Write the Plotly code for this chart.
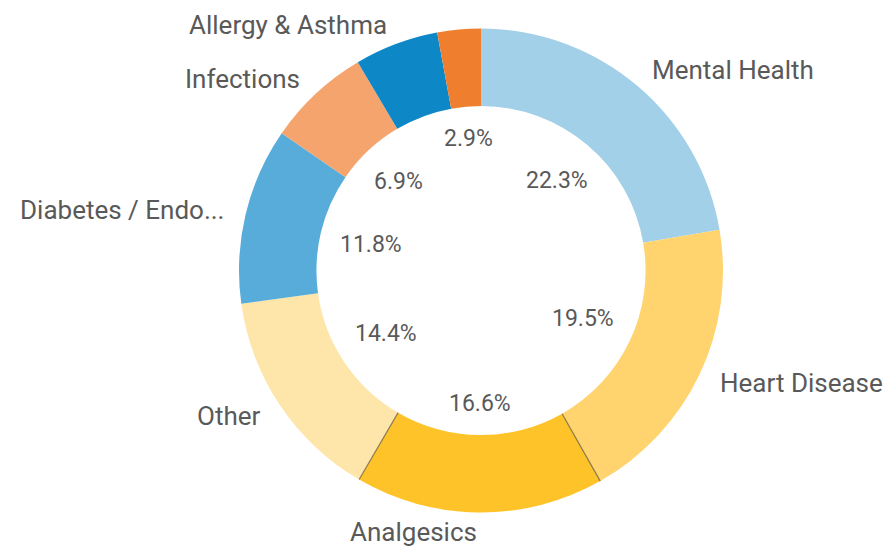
import math
import plotly.graph_objects as go

# ---- data ----
categories = ["Mental Health", "Heart Disease", "Analgesics", "Other",
              "Diabetes / Endo...", "Infections", "Allergy & Asthma", "(small)"]
values = [22.3, 19.5, 16.6, 14.4, 11.8, 6.9, 5.6, 2.9]
outer_labels = ["Mental Health", "Heart Disease", "Analgesics", "Other",
                "Diabetes / Endo...", "Infections", "Allergy & Asthma", ""]
show_inner = [True, True, True, True, True, True, False, True]
colors = ["#a2d0e8", "#ffd46e", "#ffc32a", "#fee5a9",
          "#57acda", "#f5a46e", "#0d87c6", "#ef7f2f"]

# ---- geometry ----
W, H = 892, 547
OFF = 8                       # page body margin offset
CX, CY = 481 - OFF, 270.5 - OFF   # pixel centre inside the figure
R_OUT = 242
HOLE = 0.68
R_IN = R_OUT * HOLE
R_LABEL = 262
R_FIT = 145
TEXT_COLOR = "#595959"
FONT = "Roboto"

def px2paper(x, y):
    return x / W, 1 - y / H

fig = go.Figure(go.Pie(
    labels=categories, values=values, sort=False, direction="clockwise",
    rotation=0, hole=HOLE, textinfo="none",
    marker=dict(colors=colors, line=dict(width=0)),
    domain=dict(x=[(CX - R_OUT) / W, (CX + R_OUT) / W],
                y=[(H - CY - R_OUT) / H, (H - CY + R_OUT) / H]),
    showlegend=False,
))

total = sum(values)
annotations = []
shapes = []
cum = 0.0
for i, v in enumerate(values):
    a0 = cum / total * 360
    cum += v
    a1 = cum / total * 360
    mid = math.radians((a0 + a1) / 2)
    s, c = math.sin(mid), math.cos(mid)
    # outer label
    if outer_labels[i]:
        x = CX + R_LABEL * s
        y = CY - R_LABEL * c
        xa = "left" if (a0 + a1) / 2 < 180 else "right"
        px, py = px2paper(x, y)
        annotations.append(dict(x=px, y=py, xref="paper", yref="paper",
                                text=outer_labels[i], showarrow=False,
                                xanchor=xa, yanchor="middle",
                                font=dict(family=FONT, size=26, color=TEXT_COLOR)))
    # inner percentage label
    if show_inner[i]:
        txt = f"{v:.1f}%"
        w = 12.5 * len(txt)
        h = 17
        a, b = abs(s), abs(c)
        B = a * w + b * h
        C = w * w / 4 + h * h / 4 - R_FIT ** 2
        d = (-B + math.sqrt(B * B - 4 * C)) / 2
        x = CX + d * s
        y = CY - d * c
        px, py = px2paper(x, y)
        annotations.append(dict(x=px, y=py, xref="paper", yref="paper",
                                text=txt, showarrow=False,
                                xanchor="center", yanchor="middle",
                                font=dict(family=FONT, size=23, color=TEXT_COLOR)))

# grey separators around the highlighted Analgesics slice
idx = categories.index("Analgesics")
start = sum(values[:idx]) / total * 360
end = sum(values[:idx + 1]) / total * 360
for ang in (start, end):
    r = math.radians(ang)
    x0, y0 = px2paper(CX + R_IN * math.sin(r), CY - R_IN * math.cos(r))
    x1, y1 = px2paper(CX + R_OUT * math.sin(r), CY - R_OUT * math.cos(r))
    shapes.append(dict(type="line", xref="paper", yref="paper",
                       x0=x0, y0=y0, x1=x1, y1=y1,
                       line=dict(color="rgba(110,100,70,0.8)", width=1.2)))

fig.update_layout(
    width=W, height=H, margin=dict(l=0, r=0, t=0, b=0),
    paper_bgcolor="white", plot_bgcolor="white",
    annotations=annotations, shapes=shapes,
    font=dict(family=FONT, color=TEXT_COLOR),
)

fig.write_html("out.html")
